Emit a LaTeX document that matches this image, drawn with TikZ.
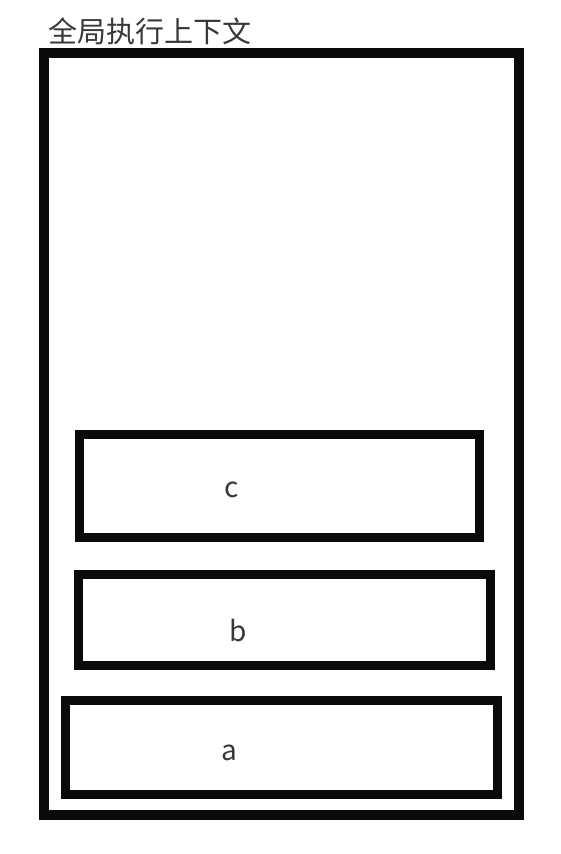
\documentclass[tikz,border=0pt]{standalone}
\usepackage{fontspec}
\setmainfont{Noto Sans CJK SC}
\definecolor{framegray}{RGB}{10, 10, 10}
\definecolor{textgray}{RGB}{55, 55, 60}
\usetikzlibrary{positioning}

\begin{document}
\begin{tikzpicture}[
          x=1pt, y=-1pt,
          ctxframe/.style={draw=framegray, line width=9.5pt, inner sep=0pt,
                           minimum width=475pt, minimum height=762pt},
          stackbox/.style={draw=framegray, line width=9pt, inner sep=0pt},
          title/.style={font=\fontsize{29}{34}\selectfont, text=textgray,
                        inner sep=0pt, anchor=west},
          varname/.style={font=\fontsize{28}{34}\selectfont, text=textgray,
                          inner sep=0pt, anchor=base}
        ]
        \useasboundingbox (0,0) rectangle (560,854);
        \node[ctxframe] (global) at (281.5,434) {};
        \node[title] (ttl) at (48,31) {全局执行上下文};
        \node[stackbox, minimum width=400pt, minimum height=103pt] (c) at (279,485.5) {};
        \node[stackbox, minimum width=412pt, minimum height=91pt]  (b) at (284,619.5) {};
        \node[stackbox, minimum width=432pt, minimum height=94pt]  (a) at (281,747) {};
        \node[varname] (lc) at (232,497) {c};
        \node[varname] (lb) at (238,641) {b};
        \node[varname] (la) at (229,760) {a};
      \end{tikzpicture}
\end{document}
